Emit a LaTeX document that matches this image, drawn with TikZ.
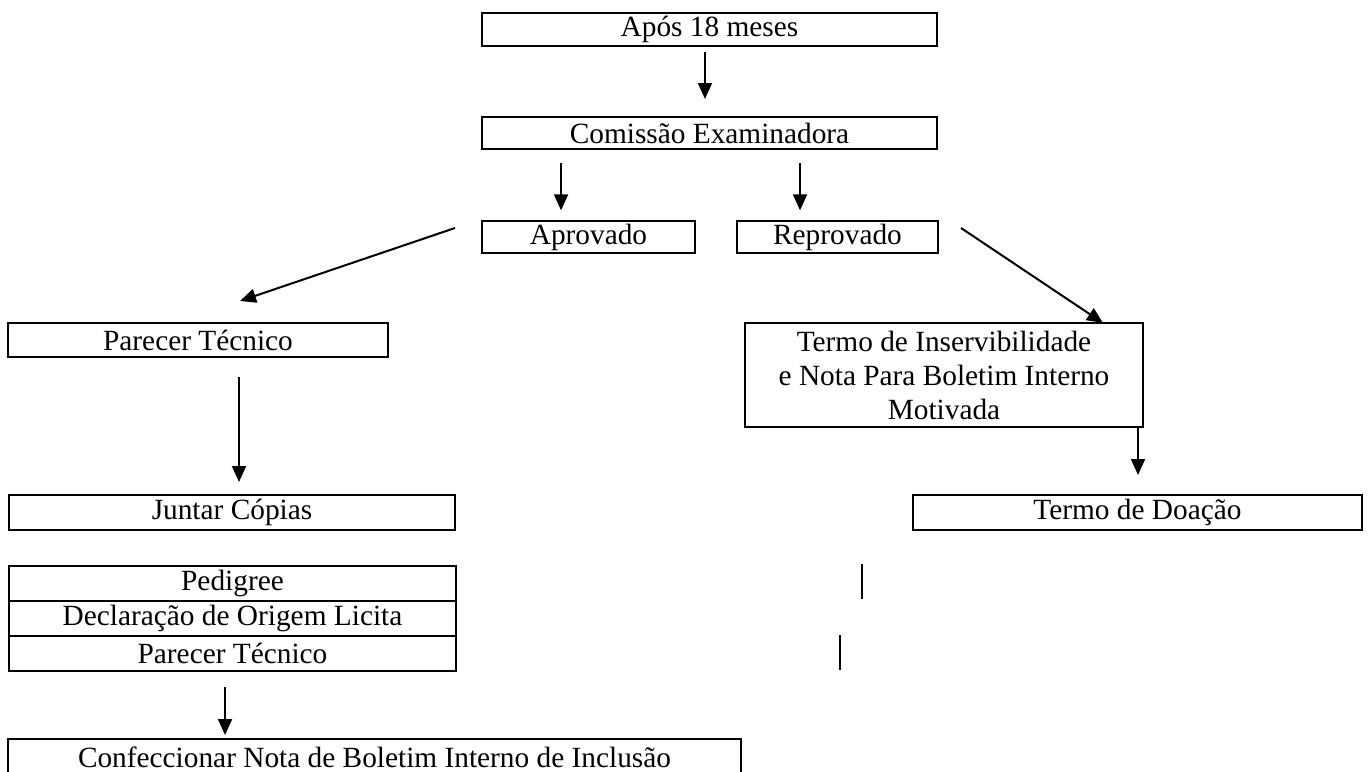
\documentclass[tikz,border=0pt]{standalone}
\usepackage{fontspec}
\setmainfont{Liberation Serif}
\usetikzlibrary{arrows.meta,positioning,calc}

\tikzset{
  box/.style={draw, line width=1.5pt, inner sep=0pt, outer sep=0pt,
    font=\fontsize{22}{25.5}\selectfont},
  arr/.style={line width=1.5pt, -{Triangle[length=12pt,width=10.5pt]}}
}

\begin{document}
\begin{tikzpicture}[x=0.75pt,y=-0.75pt]
\useasboundingbox (0,0) rectangle (1370,771);
% top of the chart
\node[box, minimum width=341.25pt, minimum height=24.75pt] (apos) at (709.5,29.5) {Após 18 meses};
\node[box, minimum width=341.25pt, minimum height=24pt] (comissao) at (709.5,133) {Comissão Examinadora};
\node[box, minimum width=159.75pt, minimum height=24pt] (aprov) at (588.5,237) {Aprovado};
\node[box, minimum width=150.75pt, minimum height=24pt] (reprov) at (837.5,237) {Reprovado};
% left branch
\node[box, minimum width=285pt, minimum height=25.5pt] (parecer) at (198,340) {Parecer Técnico};
\node[box, minimum width=334.5pt, minimum height=26.25pt] (juntar) at (232,512.5) {Juntar Cópias};
\node[box, minimum width=335.25pt, minimum height=26.25pt] (pedigree) at (232.5,583.5) {Pedigree};
\node[box, minimum width=335.25pt, minimum height=26.25pt, below=0pt of pedigree] (origem) {Declaração de Origem Licita};
\node[box, minimum width=335.25pt, minimum height=26.25pt, below=0pt of origem] (parecerb) {Parecer Técnico};
\node[box, minimum width=549.75pt, minimum height=27pt] (confecc) at (374.5,757) {Confeccionar Nota de Boletim Interno de Inclusão};
% right branch
\node[box, minimum width=298.5pt, minimum height=78pt, align=center] (termo) at (944,375)
  {Termo de Inservibilidade\\e Nota Para Boletim Interno\\Motivada};
\node[box, minimum width=336.75pt, minimum height=26.25pt] (doacao) at (1137.5,512.5) {Termo de Doação};

% arrows
\coordinate (aposDn) at ([xshift=-3.4pt]apos.south);
\coordinate (aprovUp) at ([xshift=-20.6pt]aprov.north);
\coordinate (reprovUp) at ([xshift=-28.1pt]reprov.north);
\coordinate (parecerDn) at ([xshift=30.75pt]parecer.south);
\coordinate (termoDn) at ([xshift=-3.75pt]termo.south east);
\coordinate (parecerbDn) at ([xshift=-5.6pt]parecerb.south);
\draw[arr, shorten <=4.5pt, shorten >=13.5pt] (aposDn) -- (comissao.north -| aposDn);
\draw[arr, shorten <=10.5pt, shorten >=8pt] (comissao.south -| aprovUp) -- (aprovUp);
\draw[arr, shorten <=10.5pt, shorten >=8pt] (comissao.south -| reprovUp) -- (reprovUp);
\draw[arr] ($(aprov.west)+(-27,-9)$) -- ($(parecer.north)+(42,-22)$);
\draw[arr] ($(reprov.east)+(23,-9)$) -- ($(termo.north east)+(-40,0)$);
\draw[arr, shorten >=15pt] (termoDn) -- (doacao.north -| termoDn);
\draw[arr, shorten <=15pt, shorten >=9.75pt] (parecerDn) -- (juntar.north -| parecerDn);
\draw[arr, shorten <=12pt, shorten >=3pt] (parecerbDn) -- (confecc.north -| parecerbDn);

% loose strokes on the right
\draw[line width=1.5pt] (862,564) -- (862,599);
\draw[line width=1.5pt] (840,635) -- (840,670);
\end{tikzpicture}
\end{document}
